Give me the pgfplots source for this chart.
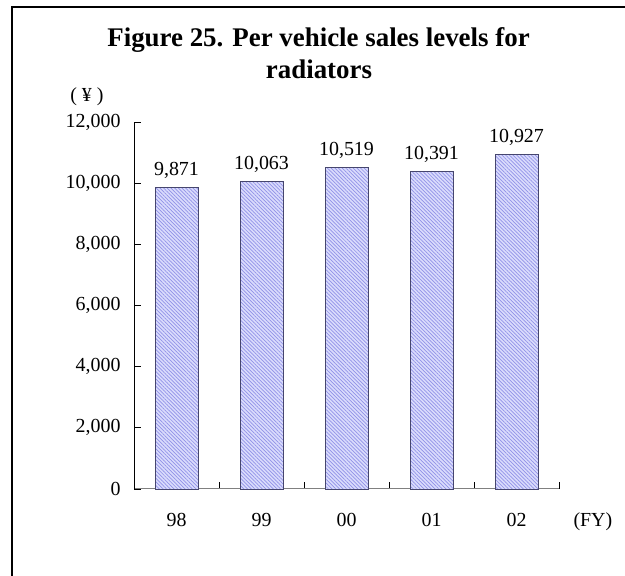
\documentclass[border=0pt]{standalone}
\usepackage{fontspec}
\setmainfont{Liberation Serif}
\usepackage{pgfplots}
\pgfplotsset{compat=1.18}
\usetikzlibrary{patterns.meta}

\definecolor{barfill}{RGB}{218,220,252}
\definecolor{hatch}{RGB}{145,145,232}
\definecolor{baredge}{RGB}{70,70,110}

\begin{document}
\begin{tikzpicture}[x=1bp,y=1bp,font=\fontsize{20}{24}\selectfont]
\useasboundingbox (0,0) rectangle (625,576);
% frame of the chart area
\draw[line width=2bp] (12,0) -- (12,569) -- (625,569);
% title
\node[font=\fontsize{27}{32}\selectfont\bfseries, anchor=base] at (318.5,529) {Figure 25. Per vehicle sales levels for};
\node[font=\fontsize{27}{32}\selectfont\bfseries, anchor=base] at (319,497) {radiators};
\begin{axis}[
  at={(134bp,87bp)}, anchor=south west,
  scale only axis, width=425bp, height=367bp,
  xmin=-0.5, xmax=4.5, ymin=0, ymax=12000,
  axis x line*=bottom, axis y line*=left,
  x axis line style={gray, line width=1bp},
  y axis line style={black, line width=1bp},
  tick align=inside, major tick length=7bp, minor tick length=7bp,
  xtick={0,1,2,3,4}, xticklabels={98,99,00,01,02},
  major x tick style={draw=none},
  minor xtick={0.5,1.5,2.5,3.5,4.5},
  minor x tick style={black, line width=0.8bp},
  ytick={0,2000,4000,6000,8000,10000,12000},
  major y tick style={black, line width=0.8bp},
  scaled y ticks=false,
  /pgf/number format/.cd, fixed, 1000 sep={,}, assume math mode=true,
  /pgfplots/.cd,
  xticklabel style={anchor=base, yshift=-38bp},
  yticklabel style={xshift=-10bp},
  nodes near coords,
  every node near coord/.append style={anchor=base, yshift=12bp, inner sep=0pt},
  clip=false,
]
\addplot[ybar, bar width=43bp, fill=barfill, draw=baredge, line width=0.8bp,
  postaction={pattern={Lines[angle=-45, distance=2.6bp, line width=0.7bp]}, pattern color=hatch}]
  coordinates {(0,9871) (1,10063) (2,10519) (3,10391) (4,10927)};
\node at (rel axis cs:0,1) [xshift=-47bp, yshift=25bp] {(\ ¥\ )};
\node[anchor=base west] at (rel axis cs:1,0) [xshift=11bp, yshift=-38bp] {(FY)};
\end{axis}
\end{tikzpicture}
\end{document}
